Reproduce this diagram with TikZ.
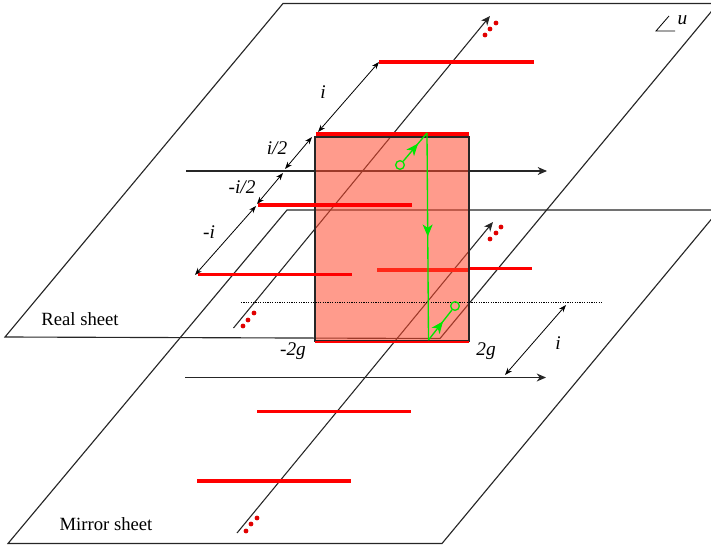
\documentclass[tikz,border=0pt]{standalone}
\usepackage{fontspec}
\setmainfont{Liberation Serif}
\usetikzlibrary{arrows.meta,decorations.markings}
\definecolor{stripred}{RGB}{255,0,0}
\definecolor{patch}{RGB}{255,73,45}
\definecolor{flow}{RGB}{0,230,0}
\definecolor{dotred}{RGB}{225,0,0}
\tikzset{
 sheet/.style={line width=.85pt,black!85,line join=miter},
 axis/.style={line width=.8pt,black!85,-{Stealth[length=7pt,width=6pt]}},
 span/.style={line width=.6pt,black,{Stealth[length=5.5pt,width=4pt]}-{Stealth[length=5.5pt,width=4pt]}},
 strip/.style={line width=2.8pt,stripred},
 thinstrip/.style={line width=1.3pt,stripred},
 dotnode/.style={circle,fill=dotred,inner sep=0pt,minimum size=3.6pt},
 ring/.style={circle,draw=flow,line width=1pt,inner sep=0pt,minimum size=6.5pt},
 lab/.style={font=\fontsize{14.5}{16}\selectfont\itshape,inner sep=0pt},
 sheetlab/.style={font=\fontsize{14}{16}\selectfont,inner sep=0pt},
 flowline/.style={draw=flow,line width=1pt},
 flowmid/.style={flowline,postaction={decorate},decoration={markings,mark=at position #1 with {\arrow{Stealth[length=9pt,width=7.5pt,inset=2.5pt,flow]}}}}
}
\begin{document}
\begin{tikzpicture}[x=.75pt,y=-.75pt]
\useasboundingbox (0,0) rectangle (711,546);
\begin{scope}
\clip (0,0) rectangle (711,546);
% corners
\coordinate (rA) at (5,337); \coordinate (rB) at (283,3.5); \coordinate (rC) at (718,3.5); \coordinate (rD) at (440,338.5);
\coordinate (mA) at (8,543.5); \coordinate (mB) at (287,210); \coordinate (mC) at (719,210); \coordinate (mD) at (442,543.5);
\draw[sheet] (rD) -- (rA) -- (rB) -- (rC) -- cycle;
\draw[sheet] (mD) -- (mA) -- (mB) -- (mC) -- cycle;
% axes
\coordinate (a1s) at (233.5,328); \coordinate (a1e) at (490,16);
\coordinate (a2s) at (237,533); \coordinate (a2e) at (493,222);
\coordinate (a3s) at (186,171); \coordinate (a3e) at (547,171);
\coordinate (a4s) at (185,377.5); \coordinate (a4e) at (546,377.5);
\draw[axis] (a1s) -- (a1e);
\draw[axis] (a2s) -- (a2e);
\draw[axis] (a3s) -- (a3e);
\draw[axis] (a4s) -- (a4e);
% strips under the patch
\coordinate (s1a) at (379,62); \coordinate (s1b) at (534,62);
\coordinate (s5a) at (377,270); \coordinate (s5b) at (470,270);
\coordinate (s5c) at (470,268.5); \coordinate (s5d) at (532,268.5);
\draw[strip] (s1a) -- (s1b);
\draw[strip] (s5a) -- (s5b);
\draw[strip] (s5c) -- (s5d);
% patch
\coordinate (p1) at (315,137); \coordinate (p2) at (469,341);
\fill[patch,fill opacity=.55] (p1) rectangle (p2);
\draw[line width=1pt,black!85] (p1) rectangle (p2);
% strips over the patch
\coordinate (s2a) at (316,134); \coordinate (s2b) at (469,134);
\coordinate (s3a) at (258,205); \coordinate (s3b) at (412,205);
\coordinate (s4a) at (198,274.5); \coordinate (s4b) at (352,274.5);
\coordinate (s6a) at (257,411.5); \coordinate (s6b) at (411,411.5);
\coordinate (s7a) at (197,481); \coordinate (s7b) at (351,481);
\coordinate (s8a) at (315,342); \coordinate (s8b) at (469,342);
\draw[strip] (s2a) -- (s2b);
\draw[strip] (s3a) -- (s3b);
\draw[strip] (s4a) -- (s4b);
\draw[strip] (s6a) -- (s6b);
\draw[strip] (s7a) -- (s7b);
\draw[thinstrip] (s8a) -- (s8b);
% dotted
\coordinate (d1) at (241,302); \coordinate (d2) at (603,302);
\draw[line width=.6pt,dash pattern=on .9pt off .9pt,black] (d1) -- (d2);
% spans
\coordinate (i1a) at (379,62); \coordinate (i1b) at (318,132);
\coordinate (i2a) at (312,137); \coordinate (i2b) at (285,169);
\coordinate (i3a) at (283,173); \coordinate (i3b) at (257,204);
\coordinate (i4a) at (256,206); \coordinate (i4b) at (195,275);
\coordinate (i5a) at (566,305); \coordinate (i5b) at (505,375);
\draw[span] (i1a) -- (i1b);
\draw[span] (i2a) -- (i2b);
\draw[span] (i3a) -- (i3b);
\draw[span] (i4a) -- (i4b);
\draw[span] (i5a) -- (i5b);
% green contour
\node[ring] (c1) at (400,165) {};
\node[ring] (c2) at (455,306) {};
\coordinate (g1) at (427,133); \coordinate (g2) at (428.5,340);
\draw[flowmid=.62] (c1) -- (g1);
\draw[flowmid=.5] (g1) -- (g2);
\draw[flowmid=.62] (g2) -- (c2);
% dots
\foreach \n/\x/\y in {a/496/23,b/490/29,c/485/35,d/501/227,e/496/233,f/490/239,g/254/313,h/248/320,k/243/326,l/257/518,m/251/524,n/246/531}
  \node[dotnode] (dot\n) at (\x,\y) {};
% u mark
\coordinate (u1) at (669,16); \coordinate (u2) at (656,31); \coordinate (u3) at (675,31);
\draw[line width=.6pt,black] (u1) -- (u2) -- (u3);
\end{scope}
% labels
\node[lab] (lu) at (682.5,20) {u};
\node[lab] (li1) at (323,92) {i};
\node[lab] (li2) at (277,148) {i/2};
\node[lab] (li3) at (242,187) {-i/2};
\node[lab] (li4) at (209,232) {-i};
\node[lab] (lg1) at (293,351) {-2g};
\node[lab] (lg2) at (486,351) {2g};
\node[lab] (li5) at (558,343) {i};
\node[sheetlab] (real) at (80,319) {Real sheet};
\node[sheetlab] (mirror) at (106,524) {Mirror sheet};
\end{tikzpicture}
\end{document}
